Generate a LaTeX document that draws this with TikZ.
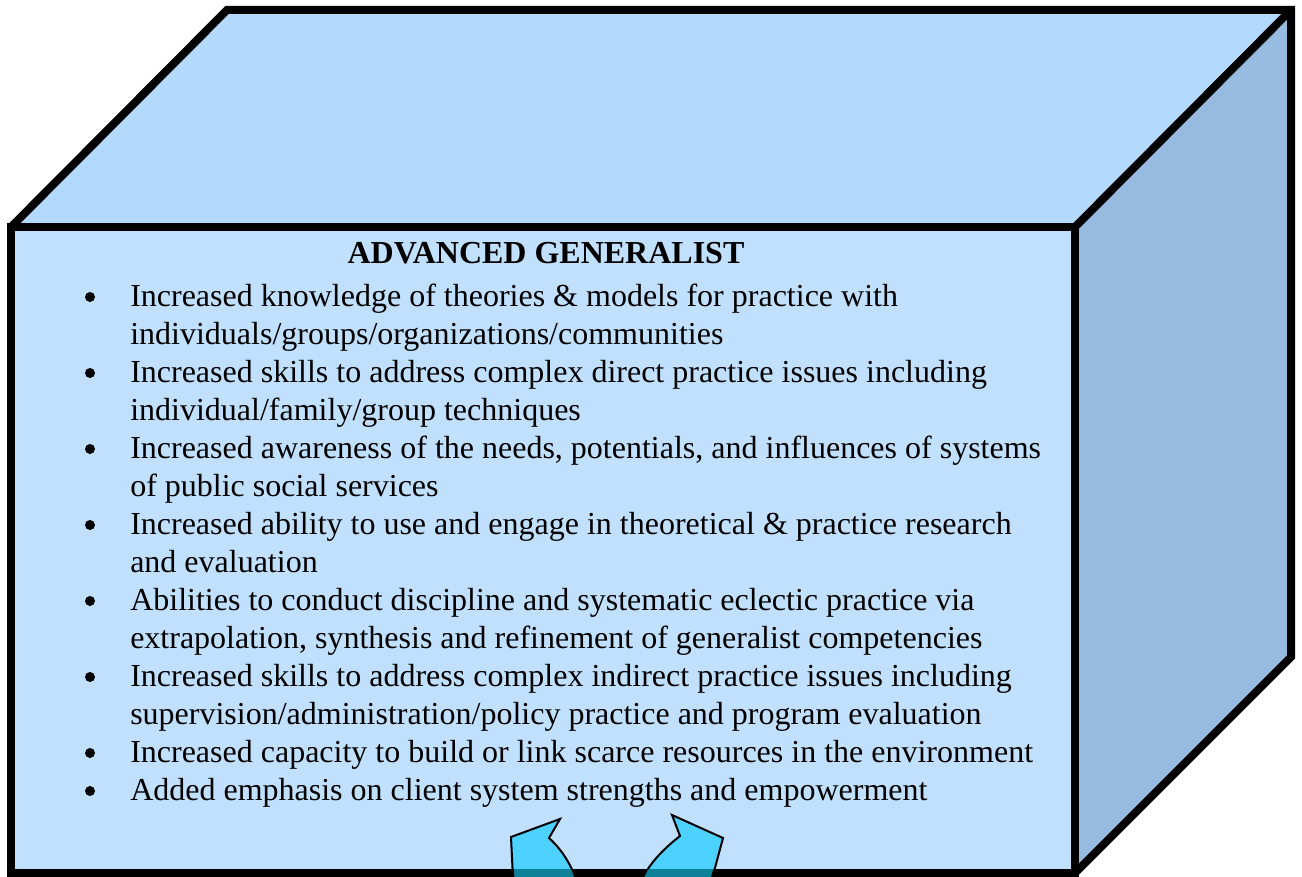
\documentclass[tikz,border=0pt]{standalone}
\usepackage{fontspec}
\setmainfont{Liberation Serif}
\definecolor{topface}{HTML}{B3D9FC}
\definecolor{frontface}{HTML}{C0E0FE}
\definecolor{rightface}{HTML}{97BBE0}
\definecolor{arrowfill}{HTML}{4DD2FF}
\definecolor{arrowdark}{HTML}{0E8097}
\begin{document}
\begin{tikzpicture}[x=0.75pt,y=-0.75pt,
  edge/.style={line width=6pt,line join=miter,black},
  txt/.style={anchor=base west,inner sep=0pt,font=\fontsize{24}{28}\selectfont},
  ttl/.style={anchor=base,inner sep=0pt,font=\fontsize{24}{28}\selectfont\bfseries},
  bul/.style={circle,fill=black,inner sep=0pt,minimum size=7.5pt},
  arr/.style={fill=arrowfill,draw=black,line width=1.5pt,line join=miter}]
\useasboundingbox (0,0) rectangle (1302,877);
% faces
\fill[topface] (11,227) -- (227,10) -- (1291,10) -- (1075,227) -- cycle;
\fill[rightface] (1075,227) -- (1291,10) -- (1291,657) -- (1075,873) -- cycle;
\fill[frontface] (11,227) rectangle (1075,873);
% arrows
\draw[arr] (513,879) -- (511,837) -- (560,819) -- (549,838) .. controls (559,847) and (569,860) .. (576,879);
\draw[arr] (712,879) -- (723,838) -- (672,815) -- (680,836) .. controls (666,847) and (651,861) .. (642,879);
% edges
\draw[edge] (11,227) -- (1075,227) -- (1075,873) -- (11,873) -- cycle;
\draw[edge] (11,227) -- (227,10) -- (1291,10) -- (1291,657) -- (1075,873);
\draw[edge] (1075,227) -- (1291,10);
% dark band where arrows pass under the bottom edge
\begin{scope}
\clip (0,869.5) rectangle (1302,877);
\fill[arrowdark] (514.5,879) -- (512.5,837) -- (560,819) -- (549,838) .. controls (559,847) and (569,860) .. (574.5,879) -- cycle;
\fill[arrowdark] (710.5,879) -- (721.5,838) -- (672,815) -- (680,836) .. controls (666,847) and (651,861) .. (643.5,879) -- cycle;
\end{scope}
% text
\node[ttl] (title) at (546,263) {ADVANCED GENERALIST};
\foreach \n/\y in {1/306,2/382,3/458,4/534,5/610,6/686,7/762,8/800}
  \node[bul] (b\n) at (90,\y-9) {};
\node[txt] (t1a) at (130,306) {Increased knowledge of theories \& models for practice with};
\node[txt] (t1b) at (130,344) {individuals/groups/organizations/communities};
\node[txt] (t2a) at (130,382) {Increased skills to address complex direct practice issues including};
\node[txt] (t2b) at (130,420) {individual/family/group techniques};
\node[txt] (t3a) at (130,458) {Increased awareness of the needs, potentials, and influences of systems};
\node[txt] (t3b) at (130,496) {of public social services};
\node[txt] (t4a) at (130,534) {Increased ability to use and engage in theoretical \& practice research};
\node[txt] (t4b) at (130,572) {and evaluation};
\node[txt] (t5a) at (130,610) {Abilities to conduct discipline and systematic eclectic practice via};
\node[txt] (t5b) at (130,648) {extrapolation, synthesis and refinement of generalist competencies};
\node[txt] (t6a) at (130,686) {Increased skills to address complex indirect practice issues including};
\node[txt] (t6b) at (130,724) {supervision/administration/policy practice and program evaluation};
\node[txt] (t7) at (130,762) {Increased capacity to build or link scarce resources in the environment};
\node[txt] (t8) at (130,800) {Added emphasis on client system strengths and empowerment};
\end{tikzpicture}
\end{document}
